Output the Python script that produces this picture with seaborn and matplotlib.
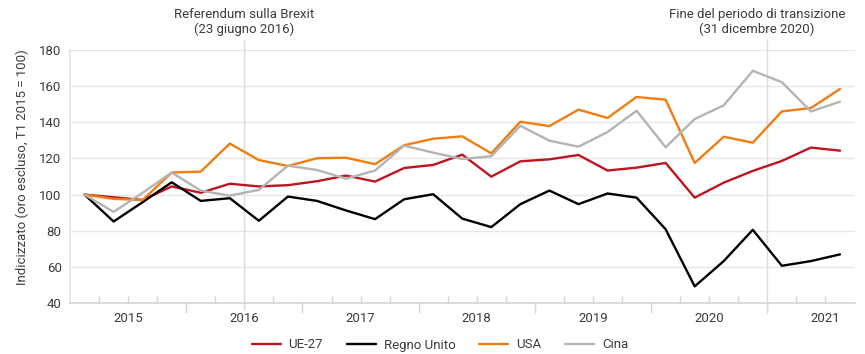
import matplotlib
matplotlib.use("Agg")
import matplotlib.pyplot as plt
import numpy as np
import pandas as pd
import seaborn as sns

# Quarterly index values, Q1 2015 .. Q3 2021 (Q1 2015 = 100)
quarters = [f"T{q} {y}" for y in range(2015, 2022) for q in range(1, 5)][:27]
ue27 = [100, 98.5, 97, 104.5, 101, 106, 104.5, 105.2, 107.4, 110.5, 107.2, 114.7,
        116.4, 122.1, 109.9, 118.4, 119.5, 121.9, 113.3, 114.9, 117.5, 98.3,
        106.6, 113.1, 118.6, 126, 124.3]
regno_unito = [100, 85.1, 95.8, 106.8, 96.5, 98, 85.5, 98.9, 96.5, 91.2, 86.4, 97.4,
               100.2, 86.7, 82, 94.7, 102.2, 94.7, 100.6, 98.3, 80.8, 49.2,
               63.2, 80.5, 60.6, 63.2, 66.9]
usa = [100, 97.6, 97, 112.2, 112.7, 128.2, 119.1, 115.8, 120.1, 120.4, 116.8, 127.3,
       130.9, 132.2, 122.8, 140.3, 137.9, 147, 142.4, 154, 152.5, 117.5,
       132, 128.7, 146, 147.9, 158.4]
cina = [100, 90.4, 101, 112.2, 102.2, 99.4, 102.6, 116, 113.6, 108.8, 113.3, 127.1,
        123.2, 119.7, 121.2, 138.1, 129.8, 126.5, 134.6, 146.4, 126.2, 141.8,
        149.4, 168.5, 162.2, 146, 151.4]

series_names = ["UE-27", "Regno Unito", "USA", "Cina"]
series_values = [ue27, regno_unito, usa, cina]
colors = ["#C0141E", "#000000", "#F07D13", "#B4B4B4"]

years = ["2015", "2016", "2017", "2018", "2019", "2020", "2021"]
y_ticks = [40, 60, 80, 100, 120, 140, 160, 180]

events = [
    (5.5, "Referendum sulla Brexit\n(23 giugno 2016)", 0.0),
    (23.5, "Fine del periodo di transizione\n(31 dicembre 2020)", -0.35),
]

df = pd.DataFrame({
    "t": np.tile(np.arange(len(quarters)), len(series_names)),
    "valore": np.concatenate(series_values),
    "serie": np.repeat(series_names, len(quarters)),
})

sns.set_theme(style="white")
plt.rcParams["font.family"] = ["Roboto", "DejaVu Sans"]
text_color = "#3C3C3C"
grid_color = "#E6E6E6"

fig = plt.figure(figsize=(8.65, 3.54), dpi=100)
ax = fig.add_axes([70 / 865, 51 / 354, 784.5 / 865, 253 / 354])

for y in y_ticks:
    ax.axhline(y, color=grid_color, lw=1.0, zorder=0)

sns.lineplot(data=df, x="t", y="valore", hue="serie", hue_order=series_names,
             palette=dict(zip(series_names, colors)), lw=1.7, ax=ax, legend=True,
             zorder=3)

ax.set_xlim(-0.5, 26.5)
ax.set_ylim(40, 180)

# Event markers extending above and below the plot area
for x, label, dx in events:
    ax.axvline(x, ymin=-0.028, ymax=1.04, color="#DCDCDC", lw=1.0, clip_on=False, zorder=1)
    ax.text(x + dx, 1.055, label, transform=ax.get_xaxis_transform(), ha="center",
            va="bottom", fontsize=9.5, color=text_color, linespacing=1.15)

# Axis styling
for side in ["top", "right"]:
    ax.spines[side].set_visible(False)
ax.spines["left"].set_color(grid_color)
ax.spines["bottom"].set_color("#D6D6D6")

ax.set_yticks(y_ticks)
ax.set_yticklabels([str(v) for v in y_ticks])
ax.tick_params(axis="y", length=0, pad=6, labelsize=9.5, labelcolor=text_color)

year_bounds = [3.5 + 4 * i for i in range(6)]
quarter_bounds = [b + 0.5 for b in range(26) if (b + 0.5) not in year_bounds]
ax.set_xticks(year_bounds)
ax.set_xticklabels([""] * len(year_bounds))
ax.set_xticks(quarter_bounds, minor=True)
ax.tick_params(axis="x", which="major", direction="out", length=7, width=1,
               color="#D6D6D6", bottom=True)
ax.tick_params(axis="x", which="minor", direction="in", length=5, width=1,
               color="#D6D6D6", bottom=True)
for i, yr in enumerate(years):
    ax.text(1.5 + 4 * i, -0.035, yr, transform=ax.get_xaxis_transform(), ha="center",
            va="top", fontsize=9.5, color=text_color)

ax.set_xlabel("")
ax.set_ylabel("")
fig.text(22 / 865, 1 - 167 / 354, "Indicizzato (oro escluso, T1 2015 = 100)",
         rotation=90, ha="center", va="center", fontsize=9.5, color=text_color)

handles, labels = ax.get_legend_handles_labels()
ax.legend_.remove()
leg = fig.legend(handles, labels, loc="center", bbox_to_anchor=(440 / 865, 1 - 345 / 354),
                 ncol=4, frameon=False, fontsize=9.5, handlelength=2.2,
                 handletextpad=0.6, columnspacing=1.8)
for t in leg.get_texts():
    t.set_color(text_color)

fig.savefig("out.png", dpi=100)
